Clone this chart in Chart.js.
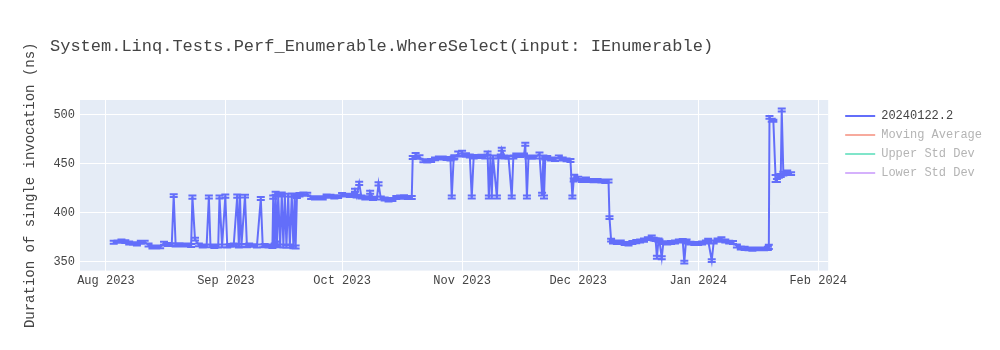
<!DOCTYPE html>
<html>
<head>
<meta charset="utf-8">
<script src="https://cdn.jsdelivr.net/npm/chart.js@4.4.1/dist/chart.umd.min.js"></script>
<style>
  body { margin: 0; background: #fff; }
  #wrap { width: 1000px; height: 350px; position: relative; }
</style>
</head>
<body>
<div id="wrap"><canvas id="myChart"></canvas></div>
<script>
const chartTitle = 'System.Linq.Tests.Perf_Enumerable.WhereSelect(input: IEnumerable)';
const yAxisTitle = 'Duration of single invocation (ns)';

// one entry per benchmark run
const runDates = [
  '2023-08-03','2023-08-04','2023-08-05','2023-08-06','2023-08-07','2023-08-08','2023-08-09','2023-08-10',
  '2023-08-11','2023-08-12','2023-08-13','2023-08-14','2023-08-15','2023-08-16','2023-08-17','2023-08-18',
  '2023-08-18T12:00Z','2023-08-19','2023-08-20','2023-08-21','2023-08-22','2023-08-23','2023-08-23T08:00Z','2023-08-24',
  '2023-08-25','2023-08-26','2023-08-27','2023-08-27T14:00Z','2023-08-28','2023-08-29','2023-08-30','2023-08-30T08:00Z',
  '2023-08-31','2023-08-31T20:00Z',
  '2023-09-01T08:00Z','2023-09-02','2023-09-03','2023-09-03T22:00Z','2023-09-04T08:00Z','2023-09-04T15:00Z','2023-09-05','2023-09-05T22:00Z',
  '2023-09-06T10:00Z','2023-09-07','2023-09-08','2023-09-09','2023-09-10','2023-09-10T12:00Z','2023-09-11','2023-09-12',
  '2023-09-13','2023-09-13T05:00Z','2023-09-13T14:00Z','2023-09-13T20:00Z','2023-09-14T04:00Z','2023-09-14T12:00Z','2023-09-15','2023-09-15T10:00Z',
  '2023-09-15T20:00Z','2023-09-16T05:00Z','2023-09-16T15:00Z','2023-09-17T02:00Z','2023-09-17T12:00Z','2023-09-18','2023-09-18T10:00Z','2023-09-18T18:00Z',
  '2023-09-19','2023-09-19T08:00Z','2023-09-20','2023-09-21','2023-09-22','2023-09-23','2023-09-24','2023-09-25',
  '2023-09-26','2023-09-27','2023-09-28','2023-09-29','2023-09-30',
  '2023-10-01','2023-10-02','2023-10-03','2023-10-04','2023-10-04T08:00Z','2023-10-04T18:00Z','2023-10-05T10:00Z','2023-10-06',
  '2023-10-07','2023-10-08','2023-10-08T06:00Z','2023-10-09','2023-10-10','2023-10-10T10:00Z','2023-10-11','2023-10-12',
  '2023-10-13','2023-10-14','2023-10-15','2023-10-16','2023-10-17','2023-10-18','2023-10-19','2023-10-19T06:00Z',
  '2023-10-20','2023-10-21','2023-10-22','2023-10-23','2023-10-24','2023-10-25','2023-10-26','2023-10-27',
  '2023-10-28','2023-10-29','2023-10-29T08:00Z','2023-10-29T20:00Z','2023-10-30','2023-10-31',
  '2023-11-01','2023-11-02','2023-11-03','2023-11-03T12:00Z','2023-11-04','2023-11-05','2023-11-06','2023-11-07',
  '2023-11-07T14:00Z','2023-11-07T22:00Z','2023-11-08T08:00Z','2023-11-08T16:00Z','2023-11-09','2023-11-10','2023-11-10T10:00Z','2023-11-11',
  '2023-11-11T06:00Z','2023-11-12','2023-11-13','2023-11-13T20:00Z','2023-11-14T06:00Z','2023-11-15','2023-11-16','2023-11-17',
  '2023-11-17T08:00Z','2023-11-17T18:00Z','2023-11-18T04:00Z','2023-11-19','2023-11-20','2023-11-21','2023-11-21T16:00Z','2023-11-22',
  '2023-11-22T04:00Z','2023-11-22T12:00Z','2023-11-23','2023-11-24','2023-11-25','2023-11-26','2023-11-27','2023-11-28',
  '2023-11-29','2023-11-29T12:00Z','2023-11-29T20:00Z','2023-11-30',
  '2023-12-01','2023-12-02','2023-12-03','2023-12-04','2023-12-05','2023-12-06','2023-12-07','2023-12-08',
  '2023-12-08T20:00Z','2023-12-09T02:00Z','2023-12-09T12:00Z','2023-12-10','2023-12-11','2023-12-12','2023-12-13','2023-12-14',
  '2023-12-15','2023-12-16','2023-12-17','2023-12-18','2023-12-19','2023-12-20','2023-12-20T12:00Z','2023-12-21',
  '2023-12-21T08:00Z','2023-12-21T18:00Z','2023-12-22','2023-12-22T14:00Z','2023-12-23','2023-12-24','2023-12-25','2023-12-26',
  '2023-12-27','2023-12-28','2023-12-28T10:00Z','2023-12-28T20:00Z','2023-12-29','2023-12-30','2023-12-31',
  '2024-01-01','2024-01-02','2024-01-03','2024-01-03T14:00Z','2024-01-04T12:00Z','2024-01-05','2024-01-06','2024-01-07',
  '2024-01-08','2024-01-09','2024-01-10','2024-01-11','2024-01-12','2024-01-13','2024-01-14','2024-01-15',
  '2024-01-16','2024-01-17','2024-01-18','2024-01-19','2024-01-19T06:00Z','2024-01-19T10:00Z','2024-01-20','2024-01-20T10:00Z',
  '2024-01-21','2024-01-21T08:00Z','2024-01-21T20:00Z','2024-01-22T08:00Z','2024-01-22T14:00Z','2024-01-23','2024-01-24','2024-01-25'
];

// ns
const durations = [
  369.8, 370.5, 371, 370.5, 369, 368.5, 368, 369.8,
  370, 367, 365, 364.7, 365, 368.8, 367.5, 367.5,
  417.5, 367, 367.5, 367, 367, 366.5, 416, 373,
  367, 366, 366, 416, 366, 365.5, 366, 416,
  366, 417,
  366, 366.5, 367, 417, 366, 417, 366.5, 417,
  366, 367, 366.5, 366, 414.5, 366, 366.5, 366,
  365.5, 416, 367, 420, 368, 418, 366, 419,
  366, 418, 365.5, 418, 366, 418, 365, 418,
  365, 416.5, 418.5, 419, 419, 415.5, 415, 415.5,
  415, 417, 417, 416, 416.5,
  418.5, 418, 417.5, 418, 423, 417, 430, 416,
  415, 415.5, 421, 414.5, 415, 429.5, 415, 414,
  412.8, 413.5, 415.5, 416, 416.5, 415.5, 415.5, 456.5,
  459, 457, 453, 453, 453.5, 455, 456, 456,
  455.5, 455, 416, 456, 457, 460,
  461, 459, 458, 416, 457, 457.5, 458, 457,
  461, 416, 457, 416, 457, 416, 457, 458,
  465, 457, 456.5, 416, 457, 459, 458.5, 459,
  470, 416, 457, 456.5, 457, 460, 419, 457,
  416, 456, 456.5, 455, 454.5, 457, 455, 454,
  453.5, 416, 433.5, 436,
  435, 433, 434.5, 433, 432.5, 433, 432.5, 432,
  432.5, 395, 372, 370, 369.5, 370, 368.5, 368,
  369.5, 370.5, 371, 372, 373.5, 375, 373, 372.5,
  354.5, 372, 371, 354, 369.5, 369, 369.5, 370,
  371, 371.5, 349.5, 370, 371, 369, 368.5,
  368.5, 369, 370, 371.5, 351, 370, 372, 373,
  371, 370, 369.5, 366, 364, 363.5, 363, 362.5,
  363, 363, 363, 363.5, 365, 497.5, 494.5, 494,
  435, 433, 437.5, 438, 505, 440, 441.5, 440
];

// +/- error, ns
const errors = [
  1.5, 1.2, 1.5, 1.4, 1.5, 1.3, 1.5, 1.6,
  1.4, 1.5, 1.5, 1.3, 1.4, 1.6, 1.5, 1.4,
  1.5, 1.5, 1.3, 1.5, 1.4, 1.5, 1.6, 1.5,
  1.4, 1.5, 1.3, 1.5, 1.4, 1.6, 1.5, 1.5,
  1.4, 1.6,
  1.5, 1.4, 1.5, 1.6, 1.5, 1.4, 1.5, 1.5,
  1.4, 1.5, 1.3, 1.5, 1.6, 1.4, 1.5, 1.5,
  1.5, 1.6, 1.4, 1.5, 2.5, 1.5, 1.4, 1.6,
  1.5, 1.5, 1.4, 1.5, 1.5, 1.6, 1.4, 1.5,
  1.5, 1.5, 1.8, 1.6, 1.5, 1.4, 1.5, 1.3,
  1.5, 1.6, 1.4, 1.5, 1.5,
  1.6, 1.5, 1.4, 1.5, 1.5, 1.4, 1.6, 1.5,
  1.5, 1.4, 1.5, 1.5, 1.4, 1.6, 1.5, 1.5,
  1.4, 1.5, 1.5, 1.6, 1.4, 1.5, 1.5, 1.6,
  2.2, 1.8, 1.5, 1.6, 1.5, 1.4, 1.5, 1.6,
  1.5, 1.5, 1.5, 1.6, 1.8, 2.5,
  2.5, 1.8, 1.5, 1.5, 1.6, 1.5, 1.4, 1.5,
  1.5, 1.5, 1.6, 1.5, 1.5, 1.5, 1.4, 1.6,
  1.5, 1.5, 1.4, 1.5, 1.5, 1.6, 1.5, 1.5,
  1.5, 1.5, 1.6, 1.4, 1.5, 1.5, 1.5, 1.6,
  1.5, 1.5, 1.4, 1.5, 1.5, 1.6, 1.5, 1.4,
  1.5, 1.5, 1.5, 2.8,
  1.8, 1.6, 1.5, 1.6, 1.4, 1.5, 1.6, 1.5,
  1.5, 1.5, 1.5, 1.6, 1.4, 1.5, 1.5, 1.4,
  1.5, 1.6, 1.5, 1.6, 1.5, 1.8, 1.5, 1.5,
  1.5, 1.6, 1.5, 1.5, 1.4, 1.5, 1.5, 1.6,
  1.5, 1.5, 1.5, 1.6, 1.5, 1.4, 1.5,
  1.5, 1.6, 1.5, 1.8, 1.5, 1.5, 1.6, 1.8,
  1.5, 1.4, 1.5, 1.5, 1.5, 1.6, 1.5, 1.5,
  1.5, 1.4, 1.5, 1.6, 2.2, 1.5, 1.5, 1,
  3.5, 1.5, 1.8, 1.5, 1.5, 1.8, 1.6, 1.5
];

const monthTicks = ['2023-08-01','2023-09-01','2023-10-01','2023-11-01','2023-12-01','2024-01-01','2024-02-01'];
const monthLabels = ['Aug 2023','Sep 2023','Oct 2023','Nov 2023','Dec 2023','Jan 2024','Feb 2024'];
const yTicks = [350, 400, 450, 500];

const seriesNames = ['20240122.2', 'Moving Average', 'Upper Std Dev', 'Lower Std Dev'];
const seriesColors = ['#636efa', '#f7aa9d', '#80e5ca', '#d5b1fc'];

const mono = "'Liberation Mono', 'Courier New', monospace";

const points = runDates.map((d, i) => ({ x: Date.parse(d), y: durations[i] }));

// light blue plot background
const plotBg = {
  id: 'plotBg',
  beforeDraw(chart) {
    const { ctx, chartArea: a } = chart;
    ctx.save();
    ctx.fillStyle = '#e5ecf6';
    ctx.fillRect(a.left, a.top, a.right - a.left, a.bottom - a.top);
    ctx.restore();
  }
};

// vertical error bars with caps
const errorBars = {
  id: 'errorBars',
  afterDatasetsDraw(chart) {
    const { ctx } = chart;
    const xs = chart.scales.x, ys = chart.scales.y;
    ctx.save();
    ctx.strokeStyle = seriesColors[0];
    ctx.lineWidth = 2;
    ctx.beginPath();
    runDates.forEach((d, i) => {
      const x = xs.getPixelForValue(Date.parse(d));
      const top = ys.getPixelForValue(durations[i] + errors[i]);
      const bot = ys.getPixelForValue(durations[i] - errors[i]);
      ctx.moveTo(x, top); ctx.lineTo(x, bot);
      ctx.moveTo(x - 4, top); ctx.lineTo(x + 4, top);
      ctx.moveTo(x - 4, bot); ctx.lineTo(x + 4, bot);
    });
    ctx.stroke();
    ctx.restore();
  }
};

// title sits left of the plot, like the original
const titleText = {
  id: 'titleText',
  afterDraw(chart) {
    const { ctx } = chart;
    ctx.save();
    ctx.fillStyle = '#444';
    ctx.font = '17px ' + mono;
    ctx.textBaseline = 'middle';
    ctx.fillText(chartTitle, 50, 46);
    ctx.restore();
  }
};

const ctx = document.getElementById('myChart');

new Chart(ctx, {
  type: 'line',
  data: {
    datasets: [
      { label: seriesNames[0], data: points, borderColor: seriesColors[0], borderWidth: 2, pointRadius: 0, tension: 0 },
      { label: seriesNames[1], data: [], borderColor: seriesColors[1], hidden: true },
      { label: seriesNames[2], data: [], borderColor: seriesColors[2], hidden: true },
      { label: seriesNames[3], data: [], borderColor: seriesColors[3], hidden: true }
    ]
  },
  options: {
    responsive: true,
    maintainAspectRatio: false,
    animation: false,
    layout: { padding: { left: 18, top: 100, right: 8, bottom: 59 } },
    plugins: {
      title: { display: false },
      tooltip: { enabled: false },
      legend: {
        position: 'right',
        align: 'start',
        // empty title only pushes the items down a little
        title: { display: true, text: '', padding: { top: 3, bottom: 0 }, font: { size: 1, lineHeight: 0 } },
        labels: {
          usePointStyle: true,
          pointStyleWidth: 30,
          padding: 7,
          font: { family: mono, size: 12 },
          generateLabels: () => seriesNames.map((name, i) => ({
            text: name,
            fillStyle: seriesColors[i],
            strokeStyle: seriesColors[i],
            lineWidth: 2,
            pointStyle: 'line',
            hidden: false,
            datasetIndex: i,
            fontColor: i === 0 ? '#444' : '#b4b4b4'
          }))
        }
      }
    },
    scales: {
      x: {
        type: 'linear',
        min: Date.parse('2023-07-25T07:00Z'),
        max: Date.parse('2024-02-03T14:00Z'),
        afterBuildTicks: s => { s.ticks = monthTicks.map(d => ({ value: Date.parse(d) })); },
        grid: { color: '#fff', drawTicks: false },
        border: { display: false },
        ticks: {
          callback: (v, i) => monthLabels[i],
          autoSkip: false,
          maxRotation: 0,
          padding: 3,
          color: '#444',
          font: { family: mono, size: 12 }
        }
      },
      y: {
        min: 340.8,
        max: 515.3,
        afterBuildTicks: s => { s.ticks = yTicks.map(v => ({ value: v })); },
        afterFit: s => { s.width = 62; },
        grid: { color: '#fff', drawTicks: false },
        border: { display: false },
        ticks: { padding: 5, color: '#444', font: { family: mono, size: 12 } },
        title: { display: true, text: yAxisTitle, color: '#444', font: { family: mono, size: 14 } }
      },
      gap: {
        type: 'linear',
        position: 'right',
        display: true,
        grid: { display: false },
        border: { display: false },
        ticks: { display: false },
        afterFit: s => { s.width = 10; }
      }
    }
  },
  plugins: [plotBg, errorBars, titleText]
});
</script>
</body>
</html>
